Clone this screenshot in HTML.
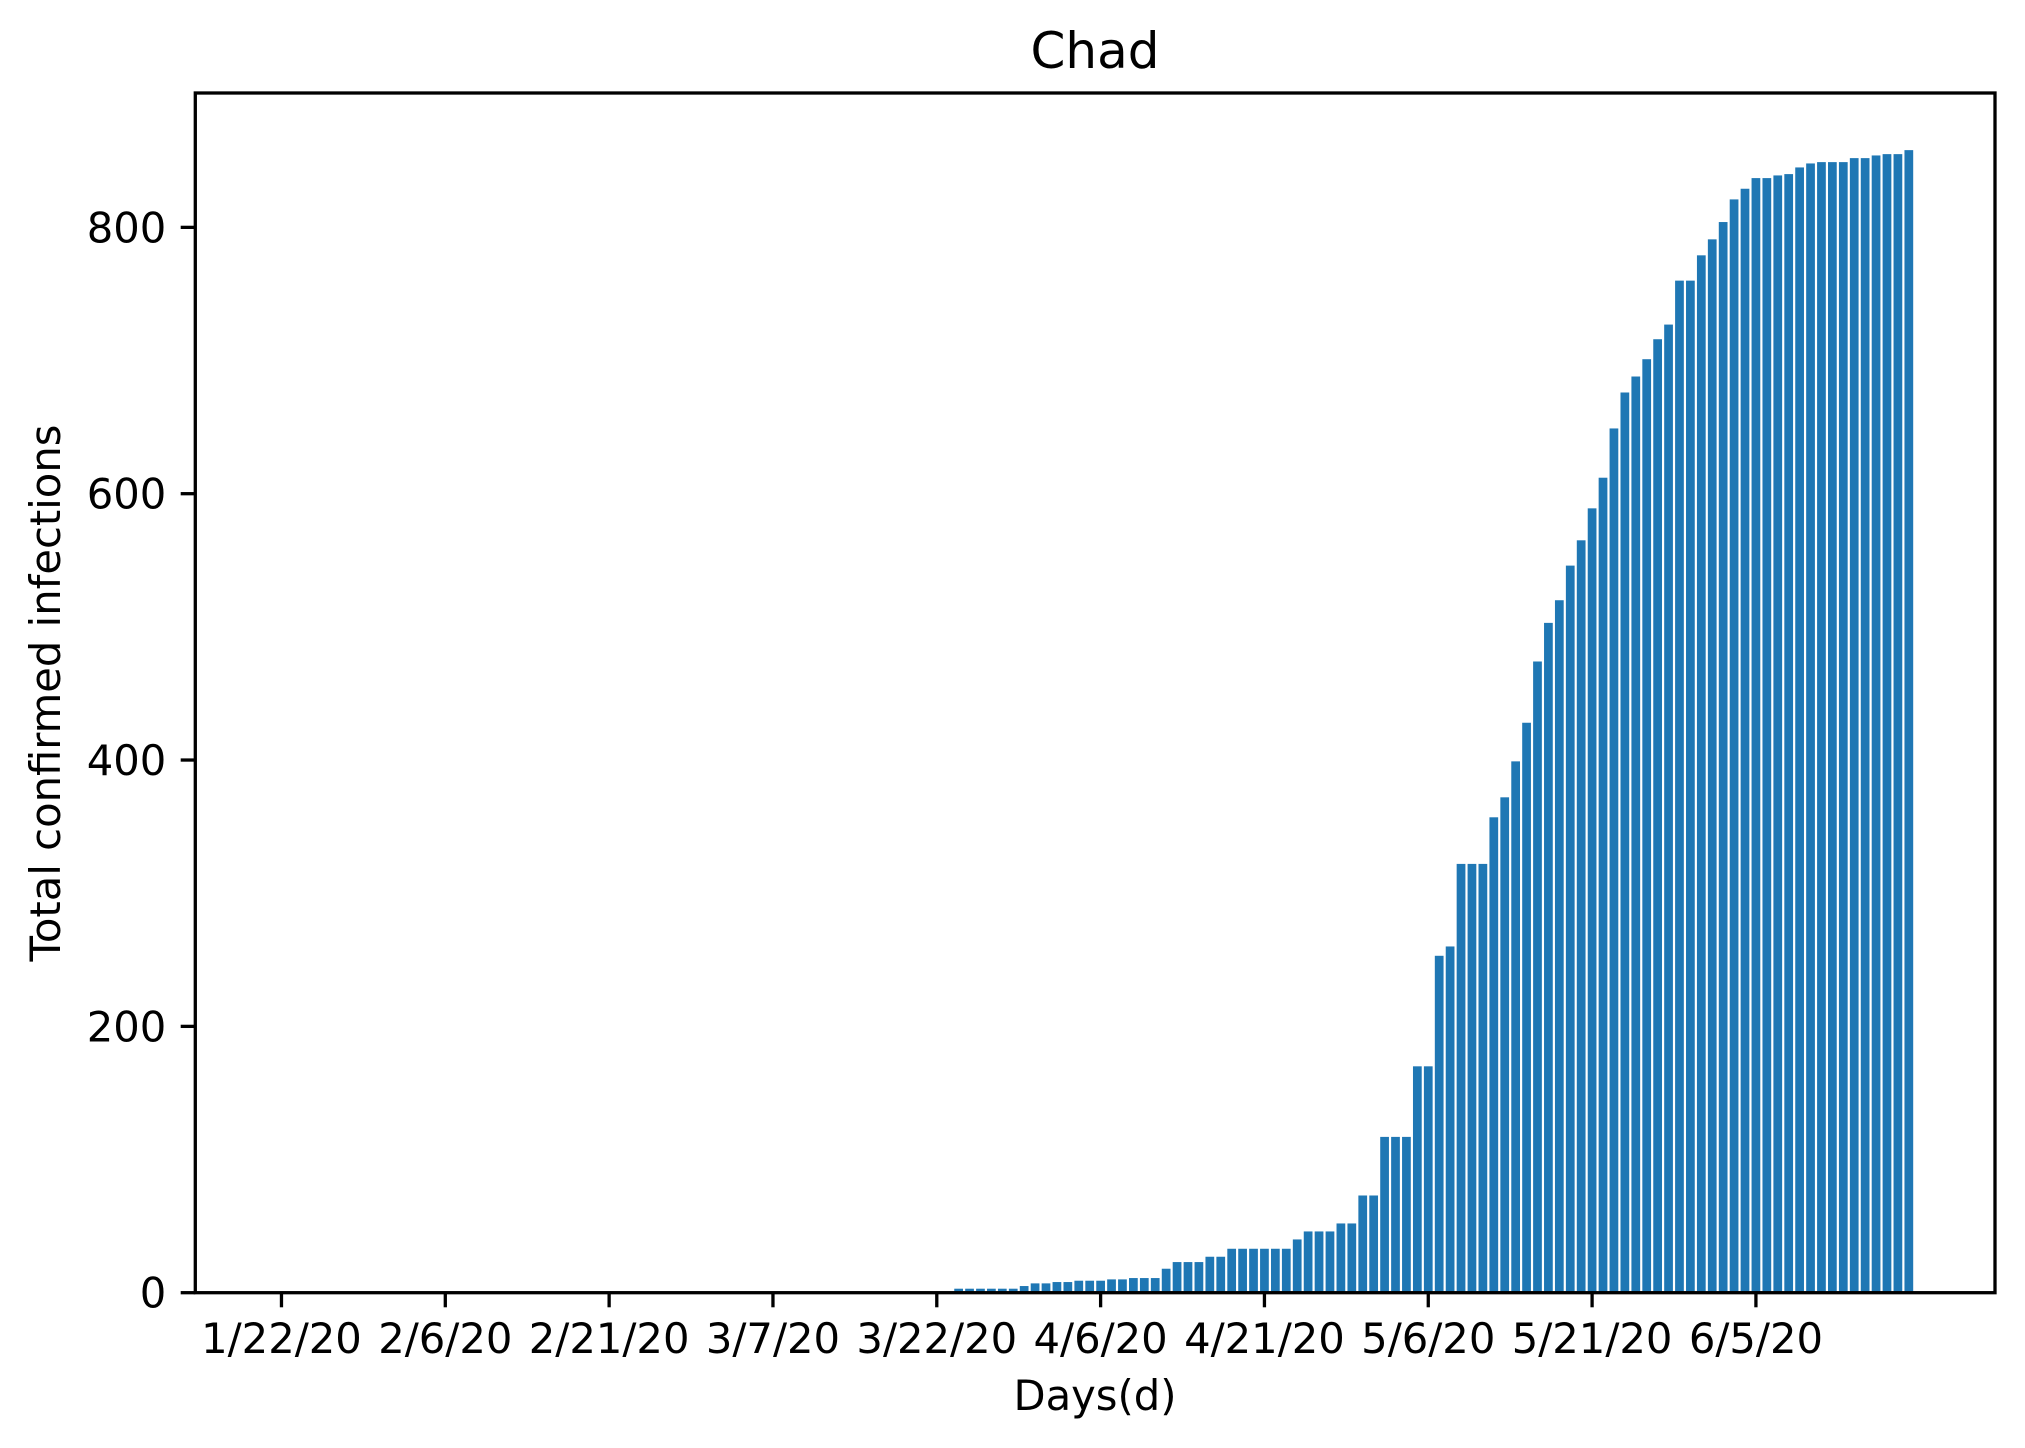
<!DOCTYPE html>
<html><head><meta charset="utf-8"><style>
html,body{margin:0;padding:0;background:#fff;}
svg{display:block;font-family:"DejaVu Sans","Liberation Sans",sans-serif;}
</style></head><body>
<svg id="chart" width="2025" height="1448" viewBox="0 0 2025 1448" xmlns="http://www.w3.org/2000/svg">
<rect width="2025" height="1448" fill="#fff"/>
<text x="1095" y="68" font-size="50" text-anchor="middle">Chad</text>
<g id="bars"></g>
<g id="xticks"></g>
<g id="yticks"></g>
<rect x="195.3" y="93" width="1799.7" height="1199.7" fill="none" stroke="#000" stroke-width="3.3"/>
<text x="1095" y="1410" font-size="41.7" text-anchor="middle">Days(d)</text>
<text transform="translate(60,693) rotate(-90)" font-size="41.7" text-anchor="middle">Total confirmed infections</text>
</svg>
<script>
const zerosBefore = 62;
const lateValues = [3,3,3,3,3,3,5,7,7,8,8,9,9,9,10,10,11,11,11,18,23,23,23,27,27,33,33,33,33,33,33,40,46,46,46,52,52,73,73,117,117,117,170,170,253,260,322,322,322,357,372,399,428,474,503,520,546,565,589,612,649,676,688,701,716,727,760,760,779,791,804,821,829,837,837,839,840,845,848,849,849,849,852,852,854,855,855,858];
const values = [];
for (let i = 0; i < zerosBefore; i++) values.push(0);
for (const v of lateValues) values.push(v);
const xTickIdx = [0,15,30,45,60,75,90,105,120,135];
const xTickLabels = ["1/22/20","2/6/20","2/21/20","3/7/20","3/22/20","4/6/20","4/21/20","5/6/20","5/21/20","6/5/20"];
const yTicks = [0,200,400,600,800];

const NS = "http://www.w3.org/2000/svg";
const L = 195.3, R = 1995, T = 93, B = 1292.7;
const n = values.length;
const xmin = -0.4 - 0.05*((n-1)+0.8), xmax = (n-1)+0.4 + 0.05*((n-1)+0.8);
const ymax = Math.max(...values)*1.05;
const xs = v => L + (v - xmin)/(xmax - xmin)*(R - L);
const ys = v => B - v/ymax*(B - T);

const bars = document.getElementById('bars');
values.forEach((v,i)=>{
  if (v <= 0) return;
  const r = document.createElementNS(NS,'rect');
  const x0 = xs(i-0.4), x1 = xs(i+0.4);
  r.setAttribute('x', x0); r.setAttribute('width', x1-x0);
  r.setAttribute('y', ys(v)); r.setAttribute('height', B-ys(v));
  r.setAttribute('fill', '#1f77b4');
  
  
  bars.appendChild(r);
});
const xg = document.getElementById('xticks');
xTickIdx.forEach((idx,k)=>{
  const x = xs(idx);
  const l = document.createElementNS(NS,'line');
  l.setAttribute('x1',x); l.setAttribute('x2',x); l.setAttribute('y1',B); l.setAttribute('y2',B+14.6);
  l.setAttribute('stroke','#000'); l.setAttribute('stroke-width','3.3');
  
  
  xg.appendChild(l);
  const t = document.createElementNS(NS,'text');
  t.setAttribute('x',x); t.setAttribute('y',1353); t.setAttribute('font-size','41.7'); t.setAttribute('text-anchor','middle');
  t.textContent = xTickLabels[k];
  
  
  xg.appendChild(t);
});
const yg = document.getElementById('yticks');
yTicks.forEach(v=>{
  const y = ys(v);
  const l = document.createElementNS(NS,'line');
  l.setAttribute('x1',L-14.6); l.setAttribute('x2',L); l.setAttribute('y1',y); l.setAttribute('y2',y);
  l.setAttribute('stroke','#000'); l.setAttribute('stroke-width','3.3');
  
  
  yg.appendChild(l);
  const t = document.createElementNS(NS,'text');
  t.setAttribute('x',L-29); t.setAttribute('y',y+15); t.setAttribute('font-size','41.7'); t.setAttribute('text-anchor','end');
  t.textContent = String(v);
  
  
  yg.appendChild(t);
});
</script>
</body></html>
